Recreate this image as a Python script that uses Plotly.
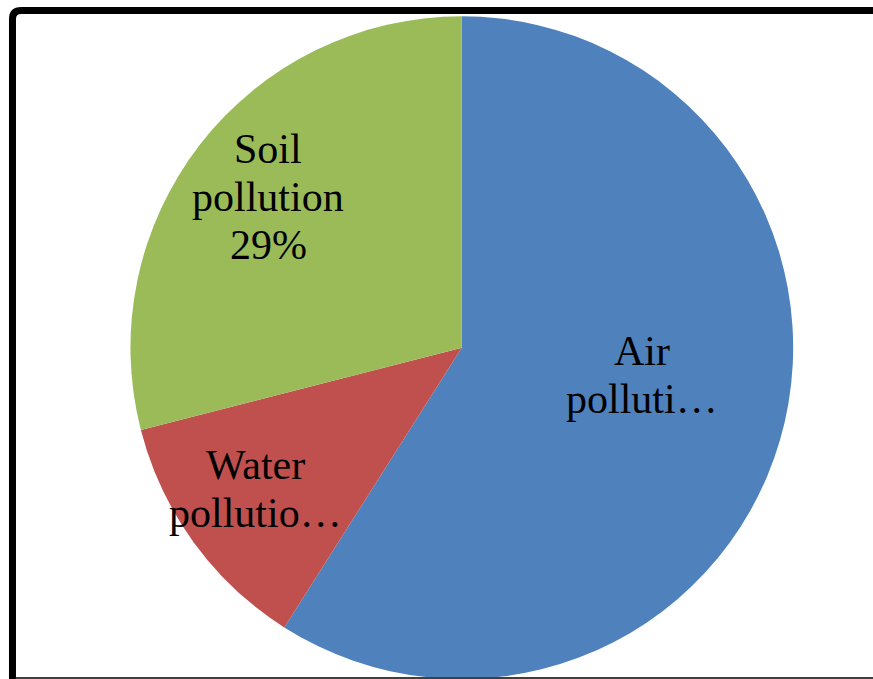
import math
import plotly.graph_objects as go

labels = ["Air pollution", "Water pollution", "Soil pollution"]
values = [59, 12, 29]
display_text = ["Air<br>polluti…", "Water<br>pollutio…", "Soil<br>pollution<br>29%"]
colors = ["#4F81BD", "#C0504D", "#9BBB59"]

# label placement style (fraction of radius, angular nudge in degrees)
label_radius = [0.55, 0.755, 0.74]
label_angle_offset = [-7.5, 1.5, 0.0]

W, H = 873, 679
dom_x = [0.148, 0.91]
dom_y = [0.0, 0.976]
FONT = "Liberation Serif, Times New Roman, serif"
FSIZE = 42
LINE_GAP = 48

fig = go.Figure(go.Pie(
    labels=labels,
    values=values,
    textinfo="none",
    sort=False,
    direction="clockwise",
    rotation=0,
    marker=dict(colors=colors, line=dict(width=0)),
    domain=dict(x=dom_x, y=dom_y),
    showlegend=False,
    hoverinfo="label+percent",
))

# pie geometry in pixels (as plotly lays it out)
dw = (dom_x[1] - dom_x[0]) * W
dh = (dom_y[1] - dom_y[0]) * H
r = min(dw, dh) / 2
cx = (dom_x[0] + dom_x[1]) / 2 * W
cy_from_bottom = (dom_y[0] + dom_y[1]) / 2 * H

annotations = []
total = sum(values)
cum = 0
for i, v in enumerate(values):
    mid = (cum + v / 2) / total * 360 + label_angle_offset[i]
    cum += v
    th = math.radians(mid)
    px = cx + r * label_radius[i] * math.sin(th)
    py = cy_from_bottom + r * label_radius[i] * math.cos(th)
    lines = display_text[i].split("<br>")
    n = len(lines)
    for j, line in enumerate(lines):
        annotations.append(dict(
            x=px / W, y=py / H, xref="paper", yref="paper",
            text=line, showarrow=False,
            xanchor="center", yanchor="middle",
            yshift=((n - 1) / 2 - j) * LINE_GAP,
            font=dict(family=FONT, size=FSIZE, color="black"),
        ))

fig.update_layout(
    width=W, height=H,
    margin=dict(l=0, r=0, t=0, b=0),
    paper_bgcolor="white",
    plot_bgcolor="white",
    annotations=annotations,
    shapes=[
        dict(type="path", xref="paper", yref="paper",
             path="M 0.0143,-0.05 L 0.0143,0.972 Q 0.0143,0.9845 0.0243,0.9845 L 1.05,0.9845",
             line=dict(color="black", width=7), layer="above"),
        dict(type="line", xref="paper", yref="paper",
             x0=0.018, x1=1.0, y0=0.0015, y1=0.0015,
             line=dict(color="#404040", width=2), layer="above"),
    ],
)

fig.write_html("out.html")
